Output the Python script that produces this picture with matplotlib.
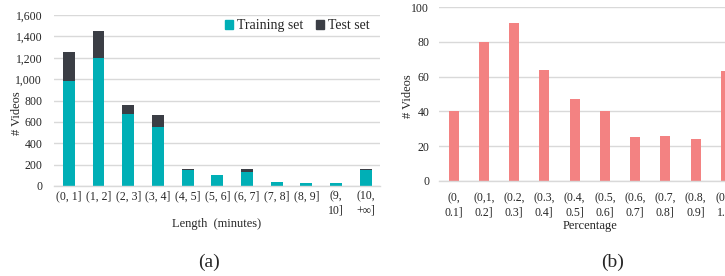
import matplotlib
matplotlib.use("Agg")
import matplotlib.pyplot as plt
from matplotlib.patches import Patch
from matplotlib.ticker import FuncFormatter

plt.rcParams['font.family'] = ['Liberation Serif', 'DejaVu Serif']

# panel (a): video length distribution
length_bins = ['(0, 1]', '(1, 2]', '(2, 3]', '(3, 4]', '(4, 5]', '(5, 6]',
               '(6, 7]', '(7, 8]', '(8, 9]', '(9,\n10]', '(10,\n+\u221e]']
train_counts = [980, 1200, 670, 555, 150, 100, 130, 35, 25, 25, 150]
test_counts = [270, 250, 90, 105, 10, 3, 25, 5, 3, 3, 5]

# panel (b): percentage distribution
pct_bins = ['(0,\n0.1]', '(0,1,\n0.2]', '(0.2,\n0.3]', '(0.3,\n0.4]', '(0.4,\n0.5]',
            '(0.5,\n0.6]', '(0.6,\n0.7]', '(0.7,\n0.8]', '(0.8,\n0.9]', '(0.9,\n1.0]']
pct_counts = [40, 80, 91, 64, 47, 40, 25, 26, 24, 63]

TEAL = '#00AFB6'
DARK = '#3B3E45'
PINK = '#F38282'
GRID = '#D9D9D9'
TXT = '#262626'

W, H = 725, 276
fig = plt.figure(figsize=(W / 100, H / 100), dpi=100)


def px(x0, y0, x1, y1):
    # pixel box (top-left origin) -> figure fraction rect
    return [x0 / W, 1 - y1 / H, (x1 - x0) / W, (y1 - y0) / H]


def style(ax, ypad):
    for s in ['top', 'right', 'left']:
        ax.spines[s].set_visible(False)
    ax.spines['bottom'].set_color(GRID)
    ax.spines['bottom'].set_linewidth(1.0)
    ax.yaxis.grid(True, color=GRID, linewidth=1.0)
    ax.set_axisbelow(True)
    ax.tick_params(axis='both', length=0, labelsize=8.5, colors=TXT)
    ax.tick_params(axis='y', pad=ypad)


# (a)
ax1 = fig.add_axes(px(54, 15, 380, 186))
x1 = range(len(length_bins))
ax1.bar(x1, train_counts, width=0.4, color=TEAL, label='Training set')
ax1.bar(x1, test_counts, width=0.4, bottom=train_counts, color=DARK, label='Test set')
ax1.set_xlim(-0.5, 10.48)
ax1.set_ylim(0, 1600)
ax1.set_yticks(range(0, 1601, 200))
ax1.yaxis.set_major_formatter(FuncFormatter(lambda v, p: f'{int(v):,}'))
ax1.set_xticks(list(x1))
ax1.set_xticklabels(length_bins, linespacing=1.25)
style(ax1, 8.5)
ax1.tick_params(axis='x', pad=3)
handles = [Patch(color=TEAL), Patch(color=DARK)]
ax1.legend(handles, ['Training set', 'Test set'], loc='center right',
           bbox_to_anchor=(377 / W, 1 - 25.5 / H), bbox_transform=fig.transFigure,
           ncol=2, frameon=False, fontsize=10, handlelength=0.6, handleheight=0.6,
           handletextpad=0.3, columnspacing=0.9, borderpad=0, labelcolor=TXT)
fig.text(17.5 / W, 1 - 113 / H, '# Videos', rotation=90, ha='center', va='center',
         fontsize=9, color=TXT)
fig.text(217 / W, 1 - 224 / H, 'Length  (minutes)', ha='center', va='center',
         fontsize=9, color=TXT)
fig.text(209 / W, 1 - 262 / H, '(a)', ha='center', va='center', fontsize=14, color=TXT)

# (b) -- right part runs past the figure edge
ax2 = fig.add_axes(px(439, 7.3, 741, 180.7))
x2 = range(len(pct_bins))
ax2.bar(x2, pct_counts, width=0.33, color=PINK)
ax2.set_xlim(-0.48, 9.5)
ax2.set_ylim(0, 100)
ax2.set_yticks(range(0, 101, 20))
ax2.set_xticks(list(x2))
ax2.set_xticklabels(pct_bins, linespacing=1.3)
style(ax2, 7)
ax2.tick_params(axis='x', pad=8)
fig.text(408 / W, 1 - 96 / H, '# Videos', rotation=90, ha='center', va='center',
         fontsize=9, color=TXT)
fig.text(590 / W, 1 - 225.7 / H, 'Percentage', ha='center', va='center',
         fontsize=9, color=TXT)
fig.text(613 / W, 1 - 262 / H, '(b)', ha='center', va='center', fontsize=14, color=TXT)

fig.savefig('out.png', dpi=100)
